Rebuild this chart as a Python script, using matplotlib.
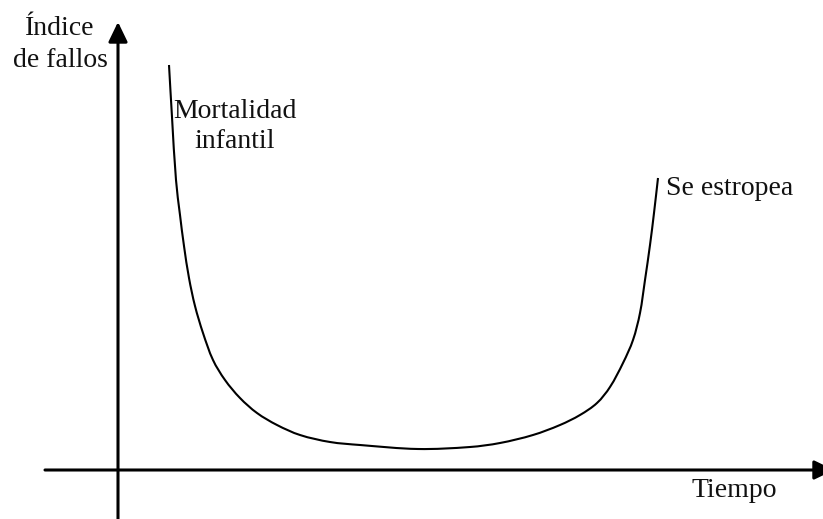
import numpy as np
import matplotlib.pyplot as plt
from matplotlib.path import Path
from matplotlib.patches import PathPatch

# bathtub curve (time units / failure-rate units)
tiempo = [51, 54, 58, 62, 66, 71, 77, 85, 95, 107, 122, 139, 159, 182, 212, 242,
          300, 352, 382, 415, 442, 462, 479, 492, 505, 515, 522, 527, 532, 536, 540]
indice = [405, 353, 290, 255, 224, 192, 164, 137, 110, 90, 72, 57, 45, 35, 28, 25,
          21, 23, 27, 35, 45, 55, 67, 83, 107, 130, 157, 190, 225, 257, 292]

label_y = ["Índice", "de fallos"]
label_x = "Tiempo"
label_start = ["Mortalidad", "infantil"]
label_end = "Se estropea"


def smooth_path(xs, ys):
    # bezier segments through the read points, tangents scaled by chord length
    pts = np.column_stack([xs, ys]).astype(float)
    n = len(pts)
    tang = []
    for i in range(n):
        d = pts[min(i + 1, n - 1)] - pts[max(i - 1, 0)]
        tang.append(d / np.hypot(*d))
    verts = [pts[0]]
    codes = [Path.MOVETO]
    for i in range(n - 1):
        L = np.hypot(*(pts[i + 1] - pts[i])) / 3
        verts += [pts[i] + tang[i] * L, pts[i + 1] - tang[i + 1] * L, pts[i + 1]]
        codes += [Path.CURVE4] * 3
    return Path(verts, codes)


fig = plt.figure(figsize=(8.23, 5.19), dpi=100)
ax = fig.add_axes([0, 0, 1, 1])
ax.set_xlim(-118, 705)
ax.set_ylim(-49, 470)
ax.axis('off')

arrow = dict(arrowstyle='-|>,head_length=0.6,head_width=0.29', mutation_scale=20,
             lw=2.2, color='black', shrinkA=0, shrinkB=0)
# axes with arrowheads
ax.annotate('', xy=(0, 448), xytext=(0, -49), arrowprops=arrow, annotation_clip=False)
ax.annotate('', xy=(716, 0), xytext=(-73, 0), arrowprops=arrow, annotation_clip=False)

ax.add_patch(PathPatch(smooth_path(tiempo, indice), fill=False, ec='black', lw=1.5))

font = dict(family='Liberation Serif', fontsize=20, color='#111111', va='baseline')
ax.text(-58, 435, label_y[0], ha='center', **font)
ax.text(-58, 403, label_y[1], ha='center', **font)
ax.text(117, 352, label_start[0], ha='center', **font)
ax.text(117, 322, label_start[1], ha='center', **font)
ax.text(548, 275, label_end, ha='left', **font)
ax.text(616, -27, label_x, ha='center', **font)

fig.savefig('out.png', dpi=100)
